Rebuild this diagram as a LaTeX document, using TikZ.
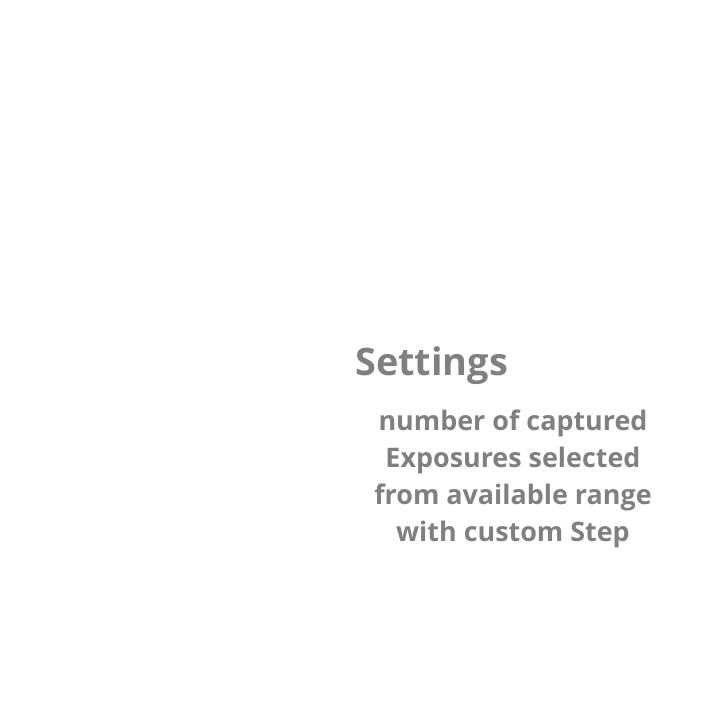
\documentclass[tikz,border=0pt]{standalone}
\usepackage{fontspec}
\setmainfont{Open Sans}
\usepackage{xcolor}
\usetikzlibrary{positioning}

\begin{document}
\begin{tikzpicture}[x=1bp, y=-1bp,
        heading/.style={anchor=base west, inner sep=0pt, text=gray,
            font=\bfseries\fontsize{38}{46}\selectfont},
        caption/.style={anchor=north, inner sep=0pt, text=gray, align=center,
            font=\bfseries\fontsize{27}{37}\selectfont}
    ]
        \useasboundingbox[fill=white] (0,0) rectangle (714,714);
        \node[heading] (settings) at (355,375) {Settings};
        \node[caption] (exposures) at (513,410) {number of captured\\
            Exposures selected\\
            from available range\\
            with custom Step};
    \end{tikzpicture}
\end{document}
